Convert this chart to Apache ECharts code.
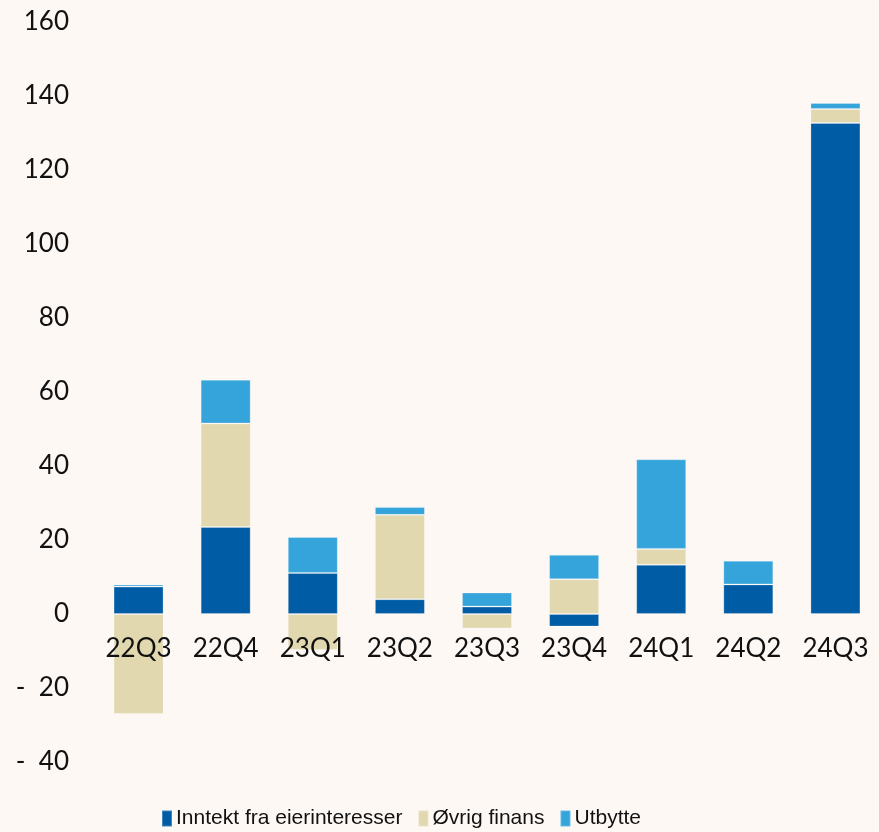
<!DOCTYPE html>
<html>
<head>
<meta charset="utf-8">
<script src="https://cdn.jsdelivr.net/npm/echarts@6/dist/echarts.min.js"></script>
<style>
  html, body { margin: 0; padding: 0; background: #fdf8f4; }
  #chart { width: 879px; height: 832px; }
</style>
</head>
<body>
<div id="chart"></div>
<script>
'use strict';

// Kvartaler og verdier lest av figuren
const quarters = ['22Q3', '22Q4', '23Q1', '23Q2', '23Q3', '23Q4', '24Q1', '24Q2', '24Q3'];
const inntekt = [7.4, 23.5, 11.1, 4.0, 2.0, -3.4, 13.3, 8.0, 132.7];
const ovrig = [-27.0, 28.0, -9.7, 22.8, -3.9, 9.4, 4.3, 0, 3.8];
const utbytte = [0.6, 11.8, 9.7, 2.1, 3.8, 6.6, 24.2, 6.4, 1.6];

const seriesNames = ['Inntekt fra eierinteresser', 'Øvrig finans', 'Utbytte'];
const colors = ['#005ca4', '#e1d8b0', '#35a4db'];

const AXIS_FONT = 'Lato, "Open Sans", sans-serif';
const Y_MIN = -40;
const Y_MAX = 160;

// hoyde for plottet og avstand fra bunn til nullinjen
const GRID_TOP = 22;
const GRID_BOTTOM = 70;
const PLOT_H = 832 - GRID_TOP - GRID_BOTTOM;
const ZERO_OFFSET = PLOT_H * (0 - Y_MIN) / (Y_MAX - Y_MIN);

function barSeries(name, data, color) {
  return {
    name,
    type: 'bar',
    stack: 'total',
    data,
    barWidth: 50,
    itemStyle: { color, borderColor: 'rgba(255,255,255,0.25)', borderWidth: 1 },
  };
}

const chart = echarts.init(document.getElementById('chart'), null, { renderer: 'canvas' });
chart.setOption({
  backgroundColor: '#fdf8f4',
  animation: false,
  color: colors,
  grid: { left: 95, width: 788, top: GRID_TOP, bottom: GRID_BOTTOM },
  legend: {
    bottom: 3,
    left: 161,
    padding: 0,
    itemWidth: 10,
    itemHeight: 16,
    itemGap: 15,
    icon: 'rect',
    textStyle: { fontFamily: '"Liberation Sans Narrow", sans-serif', fontSize: 21, color: '#111', padding: [0, 0, 0, -1] },
    data: seriesNames,
  },
  xAxis: {
    type: 'category',
    data: quarters,
    z: 10,
    offset: -ZERO_OFFSET,
    axisLine: { show: false, onZero: false },
    axisTick: { show: false },
    axisLabel: { color: '#111', fontFamily: AXIS_FONT, fontSize: 26, margin: 22 },
  },
  yAxis: {
    type: 'value',
    min: Y_MIN,
    max: Y_MAX,
    interval: 20,
    splitLine: { show: false },
    axisLine: { show: false },
    axisTick: { show: false },
    axisLabel: {
      color: '#111',
      fontFamily: AXIS_FONT,
      fontSize: 26,
      margin: 26,
      formatter: (v) => (v < 0 ? '-  ' + Math.abs(v) : String(v)),
    },
  },
  series: [
    barSeries(seriesNames[0], inntekt, colors[0]),
    barSeries(seriesNames[1], ovrig, colors[1]),
    barSeries(seriesNames[2], utbytte, colors[2]),
  ],
});
</script>
</body>
</html>
